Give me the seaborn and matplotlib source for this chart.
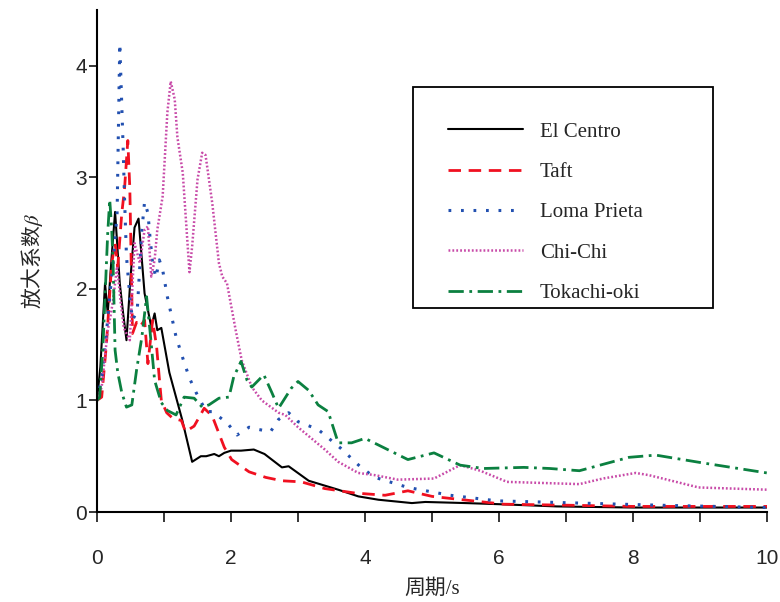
import numpy as np
import pandas as pd
import matplotlib
matplotlib.use("Agg")
import matplotlib.pyplot as plt
from matplotlib.patches import Rectangle
import seaborn as sns

# Period (s) and amplification factor
t_elcentro = [0, 0.05, 0.12, 0.16, 0.22, 0.27, 0.34, 0.39, 0.44, 0.5, 0.56, 0.62, 0.71, 0.81, 0.86, 0.9, 0.96, 1.08, 1.27,
              1.42, 1.55, 1.63, 1.75, 1.82, 1.9, 2.0, 2.15, 2.34, 2.5, 2.76, 2.86, 3.16, 3.6, 3.9, 4.2, 4.7, 4.9, 5.5, 6.0,
              6.86, 8, 10]
b_elcentro = [1.0, 1.3, 2.05, 1.78, 2.3, 2.69, 2.05, 1.78, 1.54, 2.1, 2.55, 2.63, 1.96, 1.66, 1.78, 1.63, 1.65, 1.25, 0.83,
              0.45, 0.5, 0.5, 0.52, 0.5, 0.53, 0.55, 0.55, 0.56, 0.52, 0.4, 0.41, 0.28, 0.2, 0.14, 0.11, 0.08, 0.09, 0.08, 0.07,
              0.05, 0.04, 0.04]

t_taft = [0, 0.07, 0.14, 0.22, 0.27, 0.31, 0.37, 0.41, 0.46, 0.49, 0.53, 0.59, 0.64, 0.71, 0.76, 0.83, 0.89, 0.93, 0.96,
          1.04, 1.13, 1.26, 1.32, 1.45, 1.6, 1.72, 1.9, 2.01, 2.27, 2.52, 2.76, 3.05, 3.4, 3.85, 4.3, 4.64, 5.0, 5.3, 6.07,
          7.1, 8, 10]
b_taft = [1.0, 1.03, 1.5, 2.23, 2.41, 2.2, 2.68, 2.89, 3.33, 2.9, 1.6, 1.7, 1.66, 1.72, 1.33, 1.72, 1.48, 1.2, 1.0,
          0.89, 0.84, 0.82, 0.72, 0.77, 0.93, 0.86, 0.58, 0.47, 0.36, 0.31, 0.28, 0.27, 0.21, 0.17, 0.15, 0.19, 0.14, 0.12, 0.07,
          0.06, 0.05, 0.05]

t_loma = [0, 0.07, 0.14, 0.19, 0.24, 0.3, 0.34, 0.39, 0.41, 0.44, 0.49, 0.53, 0.6, 0.67, 0.71, 0.76, 0.79, 0.83, 0.88,
          0.93, 0.98, 1.05, 1.18, 1.28, 1.38, 1.48, 1.63, 1.72, 1.94, 2.09, 2.27, 2.41, 2.59, 2.71, 2.86, 3.0, 3.3, 3.64,
          3.94, 4.15, 4.64, 5.27, 5.97, 7.2, 8.44, 10]
b_loma = [1.0, 1.2, 1.6, 1.93, 2.23, 2.68, 4.2, 3.27, 2.83, 2.29, 1.93, 1.72, 1.8, 2.53, 2.78, 2.68, 2.47, 2.23, 2.1,
          2.26, 2.17, 1.93, 1.57, 1.38, 1.2, 1.07, 0.9, 0.9, 0.8, 0.69, 0.76, 0.74, 0.72, 0.83, 0.89, 0.81, 0.74, 0.57,
          0.4, 0.31, 0.22, 0.15, 0.1, 0.08, 0.06, 0.04]

t_chichi = [0, 0.07, 0.12, 0.16, 0.2, 0.24, 0.3, 0.35, 0.4, 0.49, 0.56, 0.64, 0.71, 0.76, 0.81, 0.86, 0.9, 0.98, 1.05,
            1.1, 1.16, 1.2, 1.28, 1.38, 1.42, 1.5, 1.57, 1.62, 1.72, 1.82, 1.87, 1.94, 2.07, 2.16, 2.31, 2.46, 2.71, 2.81,
            3.0, 3.2, 3.4, 3.6, 3.9, 4.15, 4.49, 5.03, 5.42, 5.72, 6.12, 6.66, 7.2, 7.55, 8.04, 8.24, 8.98, 10]
b_chichi = [1.0, 1.12, 1.4, 1.63, 1.75, 1.9, 2.2, 1.9, 1.65, 1.54, 2.41, 2.23, 2.53, 2.56, 2.11, 2.26, 2.53, 2.83, 3.58,
            3.86, 3.7, 3.36, 3.04, 2.15, 2.38, 2.98, 3.22, 3.2, 2.77, 2.23, 2.11, 2.05, 1.63, 1.36, 1.12, 1.0, 0.89, 0.87,
            0.76, 0.66, 0.56, 0.45, 0.35, 0.33, 0.29, 0.3, 0.42, 0.37, 0.27, 0.26, 0.25, 0.3, 0.35, 0.33, 0.22, 0.2]

t_tokachi = [0, 0.04, 0.09, 0.12, 0.16, 0.19, 0.22, 0.24, 0.27, 0.31, 0.37, 0.44, 0.52, 0.59, 0.67, 0.74, 0.79, 0.86,
             0.96, 1.05, 1.18, 1.3, 1.45, 1.57, 1.67, 1.82, 1.97, 2.04, 2.15, 2.24, 2.31, 2.49, 2.61, 2.71, 2.9, 3.0, 3.16,
             3.3, 3.45, 3.6, 3.8, 4.0, 4.64, 5.03, 5.42, 5.77, 6.37, 6.76, 7.2, 7.94, 8.34, 9.04, 10]
b_tokachi = [1.0, 1.03, 1.5, 1.93, 2.5, 2.8, 2.53, 2.23, 1.45, 1.25, 1.07, 0.94, 0.96, 1.27, 1.57, 1.93, 1.63, 1.18,
             0.98, 0.91, 0.87, 1.03, 1.02, 0.94, 0.96, 1.02, 1.03, 1.21, 1.35, 1.18, 1.12, 1.23, 1.07, 0.93, 1.11, 1.17, 1.09,
             0.96, 0.9, 0.62, 0.62, 0.66, 0.47, 0.53, 0.42, 0.39, 0.4, 0.39, 0.37, 0.49, 0.51, 0.44, 0.35]

names = ["El Centro", "Taft", "Loma Prieta", "Chi-Chi", "Tokachi-oki"]

sns.set_style("ticks")
plt.rcParams["font.family"] = ["Liberation Sans", "Noto Sans CJK SC"]
plt.rcParams["mathtext.fontset"] = "stix"
plt.rcParams["lines.scale_dashes"] = False

fig = plt.figure(figsize=(7.8, 6.02), dpi=100)
ax = fig.add_axes([97 / 780, 90 / 602, 670 / 780, 502 / 602])

series = [
    (t_elcentro, b_elcentro, dict(color="black", lw=1.5, ls="-")),
    (t_taft, b_taft, dict(color="#f01020", lw=2.0, ls=(0, (9, 5.5)))),
    (t_loma, b_loma, dict(color="#2250b0", lw=2.2, ls=(0, (2, 7)))),
    (t_chichi, b_chichi, dict(color="#c84aa8", lw=1.8, ls=(0, (1.3, 1.5)))),
    (t_tokachi, b_tokachi, dict(color="#0b8040", lw=2.0, ls=(0, (11, 4, 2, 4)))),
]
for (t, b, style), name in zip(series, names):
    df = pd.DataFrame({"T": t, "beta": b})
    sns.lineplot(data=df, x="T", y="beta", ax=ax, label=name, estimator=None, sort=False,
                 color=style["color"], linewidth=style["lw"], linestyle=style["ls"])

ax.set_xlim(0, 10)
ax.set_ylim(0, 4.5)
ax.set_xticks([0, 2, 4, 6, 8, 10])
ax.set_xticks([1, 3, 5, 7, 9], minor=True)
ax.set_yticks([0, 1, 2, 3, 4])
sns.despine(ax=ax)
for s in ["left", "bottom"]:
    ax.spines[s].set_linewidth(1.5)
    ax.spines[s].set_color("black")
ax.tick_params(axis="x", which="both", direction="out", length=7, width=1.1, pad=20, labelsize=15, color="black")
ax.tick_params(axis="y", which="major", direction="out", length=6, width=1.1, pad=1, labelsize=15, color="black")

ax.set_xlabel("周期/s", fontsize=15, family=["Liberation Serif", "Noto Sans CJK SC"], labelpad=8)
ax.set_ylabel("放大系数$\\beta$", fontsize=15, family=["Noto Sans CJK SC"], labelpad=22)

# legend box
ax.add_patch(Rectangle((0.472, 0.406), 0.447, 0.441, transform=ax.transAxes, fill=False,
                       edgecolor="black", lw=1.3, clip_on=False, zorder=5))
leg = ax.legend(loc="upper left", bbox_to_anchor=(0.524, 0.777), frameon=False, borderpad=0,
                borderaxespad=0, labelspacing=1.0, handlelength=3.6, handletextpad=0.8,
                prop={"family": "Liberation Serif", "size": 15})

fig.savefig("out.png", dpi=100)
